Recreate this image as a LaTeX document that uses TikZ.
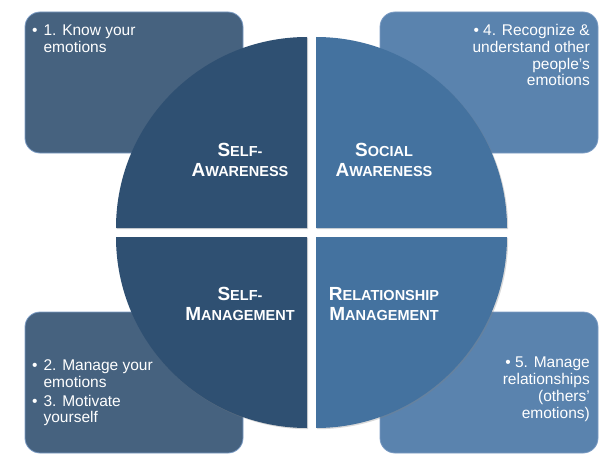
\documentclass[tikz,border=0pt]{standalone}
\usepackage{fontspec}
\setmainfont{Liberation Sans}
\usetikzlibrary{shadows}
\definecolor{quadleft}{HTML}{2F5072}
\definecolor{quadright}{HTML}{44729F}
\definecolor{boxleft}{HTML}{46627F}
\definecolor{boxright}{HTML}{5A83AE}
\definecolor{boxline}{HTML}{7C9CC4}
\newcommand{\capsc}[2]{{\fontsize{19}{20}\selectfont #1}{\fontsize{14.5}{20}\selectfont #2}}
\tikzset{
  infobox/.style={draw=boxline, line width=0.8pt, rounded corners=15pt,
    minimum width=218pt, minimum height=141pt, inner sep=0pt},
  quadrant/.style={drop shadow={shadow xshift=1.2pt, shadow yshift=-1.2pt, opacity=0.3}},
  quadtitle/.style={text=white, font=\bfseries\fontsize{19}{20}\selectfont, align=center, inner sep=0pt},
  bullettext/.style={text=white, font=\fontsize{15.5}{16.8}\selectfont, inner sep=0pt}
}
\begin{document}
\begin{tikzpicture}[x=1pt,y=1pt]
\useasboundingbox (0,0) rectangle (610,475);
\node[infobox, fill=boxleft] (knowbox) at (134,392.5) {};
\node[infobox, fill=boxright] (socialbox) at (489,392.5) {};
\node[infobox, fill=boxleft] (managebox) at (134,92.5) {};
\node[infobox, fill=boxright] (relatebox) at (489,92.5) {};
\fill[quadleft, quadrant] (307,247) -- ++(-191,0) arc[start angle=180, end angle=90, radius=191] -- cycle;
\fill[quadright, quadrant] (316,247) -- ++(0,191) arc[start angle=90, end angle=0, radius=191] -- cycle;
\fill[quadleft, quadrant] (307,238) -- ++(0,-191) arc[start angle=270, end angle=180, radius=191] -- cycle;
\fill[quadright, quadrant] (316,238) -- ++(191,0) arc[start angle=0, end angle=-90, radius=191] -- cycle;
\node[quadtitle] (selfaware) at (240,315) {\capsc{S}{ELF-}\\\capsc{A}{WARENESS}};
\node[quadtitle] (socialaware) at (384,315) {\capsc{S}{OCIAL}\\\capsc{A}{WARENESS}};
\node[quadtitle] (selfmanage) at (240,171) {\capsc{S}{ELF-}\\\capsc{M}{ANAGEMENT}};
\node[quadtitle] (relatemanage) at (384,171) {\capsc{R}{ELATIONSHIP}\\\capsc{M}{ANAGEMENT}};
\node[bullettext, anchor=north west] (knowtext) at (32,451)
  {\begin{tabular}[t]{@{}l@{\hspace{6pt}}l@{}}•&1. Know your\\&emotions\end{tabular}};
\node[bullettext, anchor=north west] (managetext) at (32,116)
  {\begin{tabular}[t]{@{}l@{\hspace{6pt}}l@{}}•&2. Manage your\\&emotions\\[1.5pt]•&3. Motivate\\&yourself\end{tabular}};
\node[bullettext, anchor=north east, align=right] (socialtext) at (590,451)
  {• 4. Recognize \&\\understand other\\people's\\emotions};
\node[bullettext, anchor=north east, align=right] (relatetext) at (590,118)
  {• 5. Manage\\relationships\\(others'\\emotions)};
\end{tikzpicture}
\end{document}
